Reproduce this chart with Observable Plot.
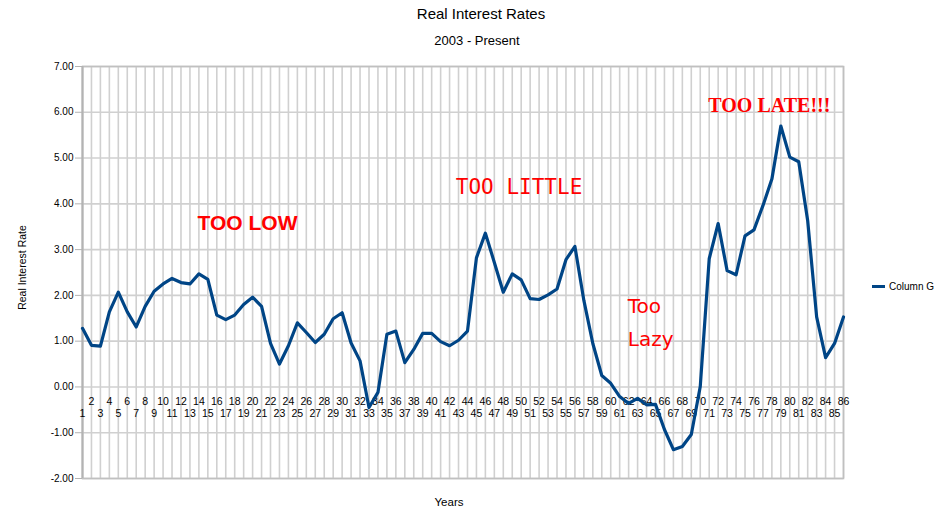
<!DOCTYPE html>
<html>
<head>
<meta charset="utf-8">
<script src="https://cdn.jsdelivr.net/npm/d3@7"></script>
<script src="https://cdn.jsdelivr.net/npm/@observablehq/plot@0.6"></script>
<style>
  html, body { margin: 0; padding: 0; background: #fff; }
  body { width: 949px; height: 513px; position: relative; font-family: "Liberation Sans", Arial, sans-serif; overflow: hidden; }
  #header { height: 56px; position: relative; }
  #title { position: absolute; left: 0; width: 962px; top: 5px; text-align: center; font-size: 15px; color: #000; }
  #subtitle { position: absolute; left: 0; width: 954px; top: 33px; text-align: center; font-size: 13px; color: #000; }
  #legend { position: absolute; left: 872px; top: 281px; font-size: 10px; display: flex; align-items: center; }
  #legend .sw { width: 13px; height: 3px; background: #004586; margin-right: 4px; }
  svg { display: block; }
</style>
</head>
<body>
<div id="header">
  <div id="title">Real Interest Rates</div>
  <div id="subtitle">2003 - Present</div>
</div>
<div id="chart"></div>
<div id="legend"><div class="sw"></div><span>Column G</span></div>
<script>
const years = [1,2,3,4,5,6,7,8,9,10,11,12,13,14,15,16,17,18,19,20,21,22,23,24,25,26,27,28,29,30,
  31,32,33,34,35,36,37,38,39,40,41,42,43,44,45,46,47,48,49,50,51,52,53,54,55,56,57,58,59,60,
  61,62,63,64,65,66,67,68,69,70,71,72,73,74,75,76,77,78,79,80,81,82,83,84,85,86];
const rates = [1.28,0.91,0.89,1.64,2.07,1.64,1.31,1.76,2.09,2.25,
  2.37,2.28,2.25,2.47,2.35,1.57,1.47,1.57,1.80,1.96,
  1.76,0.95,0.50,0.90,1.40,1.19,0.97,1.15,1.49,1.62,
  0.96,0.57,-0.45,-0.12,1.15,1.22,0.53,0.82,1.17,1.17,
  0.99,0.90,1.02,1.22,2.82,3.36,2.72,2.07,2.47,2.34,
  1.93,1.91,2.01,2.14,2.78,3.07,1.89,0.95,0.25,0.08,
  -0.21,-0.36,-0.25,-0.39,-0.38,-0.93,-1.37,-1.30,-1.04,0.01,
  2.80,3.57,2.54,2.45,3.30,3.43,3.96,4.54,5.70,5.02,
  4.92,3.63,1.53,0.64,0.95,1.53];
const yTicks = [-2,-1,0,1,2,3,4,5,6,7];
const annoText = ["TOO LOW", "TOO LITTLE", "Too\nLazy", "TOO LATE!!!"];
const annoX = [13.85, 42.7, 61.9, 70.9];
const annoY = [3.57, 4.37, 1.49, 6.15];
const seriesName = "Column G";
const yLabel = "Real Interest Rate";
const xLabel = "Years";

const data = years.map((y, i) => ({year: y, rate: rates[i]}));
const anno = annoText.map((t, i) => ({text: t, x: annoX[i], y: annoY[i]}));
const annoStyles = [
  {fontFamily: "Liberation Sans, Arial, sans-serif", fontWeight: "bold", fontSize: 21},
  {fontFamily: "DejaVu Sans Mono, monospace", fontWeight: "normal", fontSize: 21},
  {fontFamily: "DejaVu Sans, sans-serif", fontWeight: "normal", fontSize: 20, lineHeight: 1.65},
  {fontFamily: "Liberation Serif, Times New Roman, serif", fontWeight: "bold", fontSize: 20}
];

const plot = Plot.plot({
  width: 949,
  height: 457,
  marginTop: 10,
  marginBottom: 35,
  marginLeft: 82,
  marginRight: 106,
  style: {fontFamily: "Liberation Sans, Arial, sans-serif", fontSize: "10px", background: "#fff", overflow: "visible"},
  x: {type: "linear", domain: [1, 86]},
  y: {domain: [-2, 7]},
  marks: [
    Plot.ruleX(years, {x: d => d, stroke: "#d0d0d0", strokeWidth: 1.6}),
    Plot.ruleY(yTicks, {y: d => d, stroke: "#d0d0d0", strokeWidth: 1.6}),
    Plot.frame({stroke: "#c0c0c0", strokeWidth: 1.6}),
    Plot.ruleX([1], {x: d => d, stroke: "#b3b3b3", strokeWidth: 2}),
    Plot.axisY({ticks: yTicks, tickFormat: d => d.toFixed(2), tickSize: 7, tickPadding: 2, stroke: "#b3b3b3", fill: "#000", label: null, fontSize: 10}),
    Plot.axisX({ticks: [], label: null}),
    Plot.text(years.filter(d => d % 2 === 0), {x: d => d, y: d => 0, text: d => String(d), dy: 15, fill: "#000", fontSize: 10.5}),
    Plot.text(years.filter(d => d % 2 === 1), {x: d => d, y: d => 0, text: d => String(d), dy: 27, fill: "#000", fontSize: 10.5}),
    Plot.line(data, {x: "year", y: "rate", stroke: "#004586", strokeWidth: 3.2, strokeLinejoin: "round", strokeLinecap: "round"}),
    ...anno.map((a, i) => Plot.text([a], {x: "x", y: "y", text: "text", textAnchor: "start", fill: "#ff0000", ...annoStyles[i]})),
    Plot.text([yLabel], {text: d => d, frameAnchor: "left", textAnchor: "middle", dx: -60, dy: -5, rotate: -90, fontSize: 10.5, fill: "#000"}),
    Plot.text([xLabel], {text: d => d, frameAnchor: "bottom", dx: -14, dy: 27, fontSize: 11.5, fill: "#000"})
  ]
});
document.getElementById("chart").appendChild(plot);
</script>
</body>
</html>
